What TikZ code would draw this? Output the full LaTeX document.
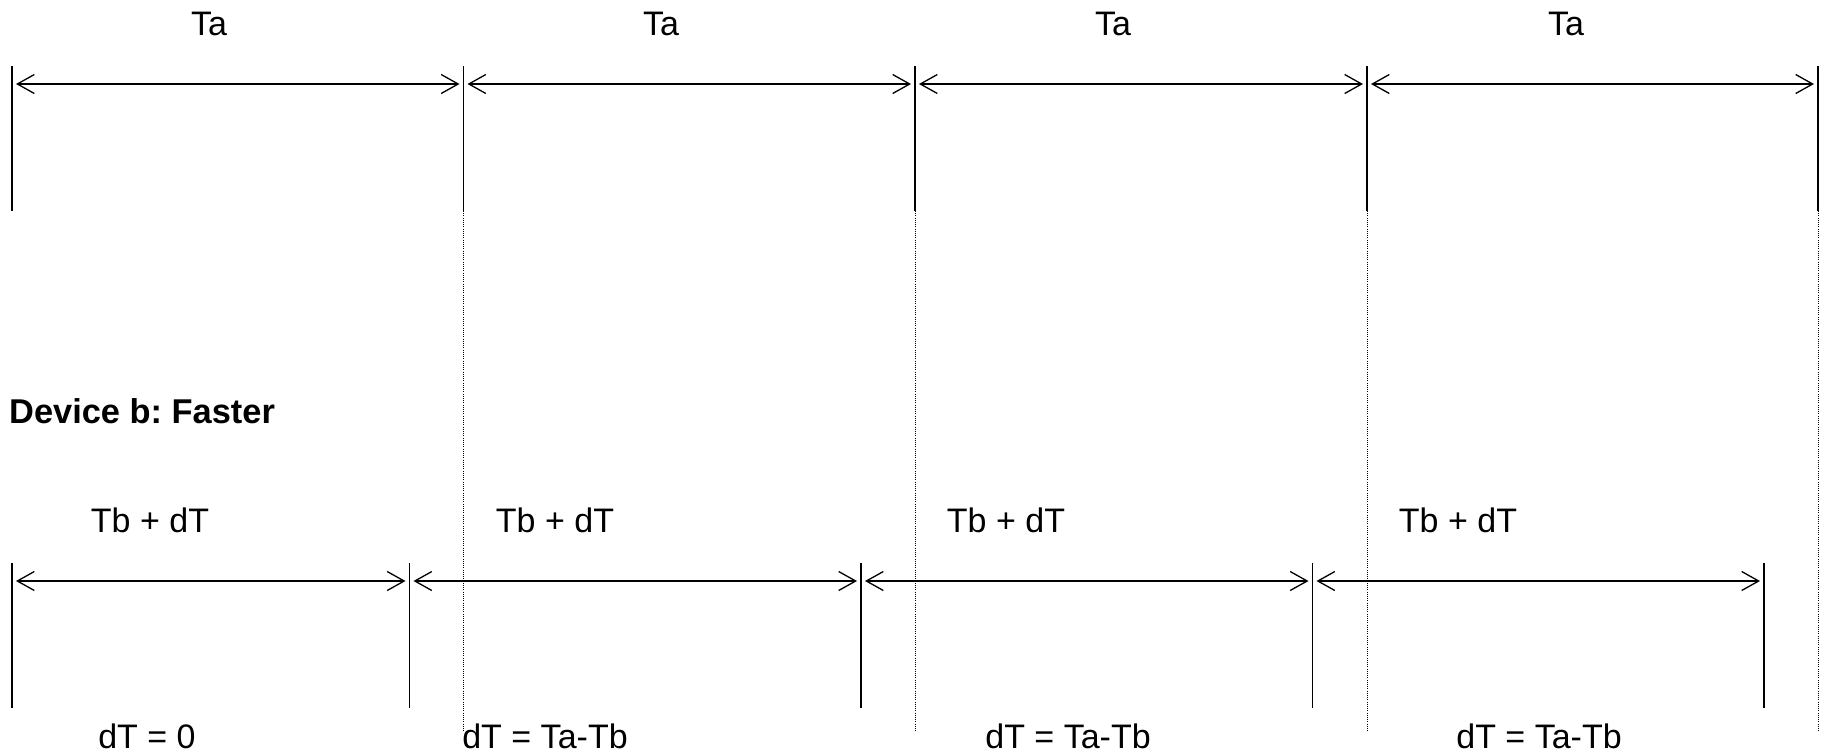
\documentclass[tikz,border=0pt]{standalone}
\usepackage{fontspec}
\setmainfont{Liberation Sans}
\usetikzlibrary{arrows.meta}
\frenchspacing
\tikzset{
  tick/.style={line width=1.8pt},
  dim/.style={line width=1.3pt,{Straight Barb[length=17pt,width=19pt,line width=1.3pt]}-{Straight Barb[length=17pt,width=19pt,line width=1.3pt]},shorten <=4pt,shorten >=4pt},
  guide/.style={line width=0.9pt,dash pattern=on 1pt off 1.2pt},
  lbl/.style={inner sep=0pt,anchor=base,font=\fontsize{34}{40}\selectfont},
  hdr/.style={inner sep=0pt,anchor=base west,font=\fontsize{34.4}{40}\selectfont\bfseries}
}
\begin{document}
\begin{tikzpicture}[x=1pt,y=-1pt]
\useasboundingbox (0,0) rectangle (1822,753);
% top device ticks
\foreach \i/\x in {0/12,1/463.5,2/915,3/1367,4/1818}{
  \coordinate (tt\i) at (\x,66);
  \coordinate (tb\i) at (\x,211);
  \coordinate (ta\i) at (\x,84);
  \coordinate (td\i) at (\x,731);
  \draw[tick] (tt\i) -- (tb\i);
}
\foreach \i in {1,2,3,4}{ \draw[guide] (tb\i) -- (td\i); }
\foreach \i/\j in {0/1,1/2,2/3,3/4}{ \draw[dim] (ta\i) -- (ta\j); }
\node[lbl] (Ta1) at (209,35) {Ta};
\node[lbl] (Ta2) at (661,35) {Ta};
\node[lbl] (Ta3) at (1113,35) {Ta};
\node[lbl] (Ta4) at (1566,35) {Ta};
% device b
\node[hdr] (dev) at (9,423) {Device b: Faster};
\foreach \i/\x in {0/12,1/409.5,2/861,3/1312.5,4/1764}{
  \coordinate (bt\i) at (\x,563);
  \coordinate (bb\i) at (\x,708);
  \coordinate (ba\i) at (\x,581);
  \draw[tick] (bt\i) -- (bb\i);
}
\foreach \i/\j in {0/1,1/2,2/3,3/4}{ \draw[dim] (ba\i) -- (ba\j); }
\node[lbl] (Tb1) at (150,532) {Tb + dT};
\node[lbl] (Tb2) at (555,532) {Tb + dT};
\node[lbl] (Tb3) at (1006,532) {Tb + dT};
\node[lbl] (Tb4) at (1458,532) {Tb + dT};
\node[lbl] (d1) at (147,748) {dT = 0};
\node[lbl] (d2) at (545,748) {dT = Ta-Tb};
\node[lbl] (d3) at (1068,748) {dT = Ta-Tb};
\node[lbl] (d4) at (1539,748) {dT = Ta-Tb};
\end{tikzpicture}
\end{document}
